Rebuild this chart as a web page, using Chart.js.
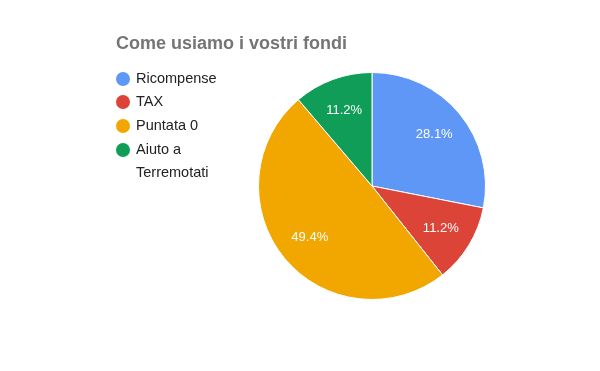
<!DOCTYPE html>
<html>
<head>
<meta charset="utf-8">
<script src="https://cdn.jsdelivr.net/npm/chart.js@4/dist/chart.umd.min.js"></script>
<style>
  html, body { margin: 0; padding: 0; background: #fff; }
  #wrap { width: 600px; height: 371px; position: relative; }
</style>
</head>
<body>
<div id="wrap"><canvas id="pieChart"></canvas></div>
<script>
// Chart data
const chartTitle = 'Come usiamo i vostri fondi';
const categories = ['Ricompense', 'TAX', 'Puntata 0', 'Aiuto a Terremotati'];
const legendLines = [['Ricompense'], ['TAX'], ['Puntata 0'], ['Aiuto a', 'Terremotati']];
const values = [25, 10, 44, 10];
const sliceColors = ['#5e97f6', '#db4437', '#f2a600', '#0f9d58'];

// Title + legend drawn on the left side, like Google Charts
const sideDecor = {
  id: 'sideDecor',
  afterDraw(chart) {
    const ctx = chart.ctx;
    ctx.save();
    ctx.fillStyle = '#757575';
    ctx.font = 'bold 18px "Liberation Sans", Arial, sans-serif';
    ctx.textBaseline = 'alphabetic';
    ctx.textAlign = 'left';
    ctx.fillText(chartTitle, 116, 49);

    ctx.font = '14.5px "Liberation Sans", Arial, sans-serif';
    ctx.textBaseline = 'middle';
    let y = 79;
    legendLines.forEach((lines, i) => {
      ctx.fillStyle = sliceColors[i];
      ctx.beginPath();
      ctx.arc(123, y, 7, 0, Math.PI * 2);
      ctx.fill();
      ctx.fillStyle = '#222222';
      lines.forEach((ln, j) => {
        ctx.fillText(ln, 136, y + j * 23);
      });
      y += 24 + (lines.length - 1) * 23 - (i === 0 ? 1 : 0);
    });
    ctx.restore();
  }
};

// Percentage labels inside slices
const sliceLabels = {
  id: 'sliceLabels',
  afterDatasetsDraw(chart) {
    const ctx = chart.ctx;
    const meta = chart.getDatasetMeta(0);
    const data = chart.data.datasets[0].data;
    const total = data.reduce((a, b) => a + b, 0);
    ctx.save();
    ctx.fillStyle = '#ffffff';
    ctx.font = '13px "Liberation Sans", Arial, sans-serif';
    ctx.textAlign = 'center';
    ctx.textBaseline = 'middle';
    meta.data.forEach((arc, i) => {
      const p = arc.getProps(['x', 'y', 'startAngle', 'endAngle', 'outerRadius'], true);
      const mid = (p.startAngle + p.endAngle) / 2;
      const r = p.outerRadius * 0.71;
      const pct = (data[i] / total * 100).toFixed(1) + '%';
      ctx.fillText(pct, p.x + Math.cos(mid) * r, p.y + Math.sin(mid) * r);
    });
    ctx.restore();
  }
};

new Chart(document.getElementById('pieChart'), {
  type: 'pie',
  data: {
    labels: categories,
    datasets: [{
      data: values,
      backgroundColor: sliceColors,
      borderColor: '#ffffff',
      borderWidth: 1
    }]
  },
  options: {
    responsive: true,
    maintainAspectRatio: false,
    animation: false,
    layout: {
      padding: { top: 72, bottom: 71, left: 258, right: 114 }
    },
    plugins: {
      legend: { display: false },
      title: { display: false },
      tooltip: { enabled: false }
    }
  },
  plugins: [sideDecor, sliceLabels]
});
</script>
</body>
</html>
